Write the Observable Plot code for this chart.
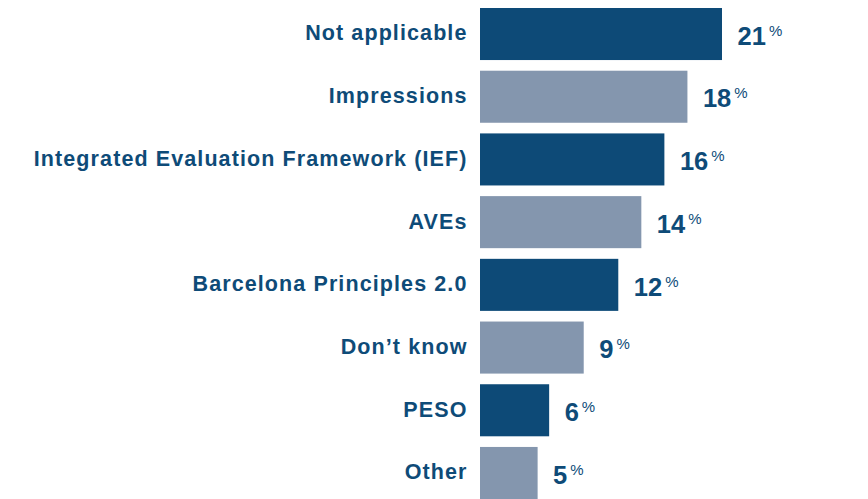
<!DOCTYPE html>
<html>
<head>
<meta charset="utf-8">
<script src="https://cdn.jsdelivr.net/npm/d3@7"></script>
<script src="https://cdn.jsdelivr.net/npm/@observablehq/plot@0.6"></script>
<style>
  html, body { margin: 0; padding: 0; background: #fff; }
  svg { display: block; }
</style>
</head>
<body>
<div id="chart"></div>
<script>
const categories = ["Not applicable", "Impressions", "Integrated Evaluation Framework (IEF)", "AVEs", "Barcelona Principles 2.0", "Don\u2019t know", "PESO", "Other"];
const values = [21, 18, 16, 14, 12, 9, 6, 5];
const shades = ["dark", "light", "dark", "light", "dark", "light", "dark", "light"];

const data = categories.map((c, i) => ({category: c, value: values[i], shade: shades[i]}));
const textColor = "#0e4b78";

const chart = Plot.plot({
  width: 868,
  height: 499,
  marginLeft: 480,
  marginRight: 146,
  marginTop: 8,
  marginBottom: 0,
  style: {fontFamily: "'Liberation Sans', Arial, sans-serif", background: "#fff"},
  x: {domain: [0, 21], axis: null},
  y: {domain: categories, axis: null, paddingInner: 0.17, paddingOuter: 0, round: false},
  color: {domain: ["dark", "light"], range: ["#0d4a77", "#8496ae"]},
  marks: [
    Plot.barX(data, {x: "value", y: "category", fill: "shade"}),
    Plot.text(data, {
      x: 0, y: "category", text: "category", textAnchor: "end", dx: -13, dy: -1,
      fontSize: 21.5, fontWeight: "bold", fill: textColor, className: "clabel"
    }),
    Plot.text(data, {
      x: "value", y: "category", text: d => String(d.value), textAnchor: "start", dx: 15, dy: 2,
      fontSize: 25.5, fontWeight: "bold", fill: textColor, className: "vlabel"
    })
  ]
});

d3.select(chart).selectAll("g.clabel text").attr("letter-spacing", "1.1px");

d3.select(chart).selectAll("g.vlabel text").each(function() {
  d3.select(this).append("tspan")
    .attr("font-size", 15)
    .attr("font-weight", "normal")
    .attr("dx", 3)
    .attr("dy", -9)
    .text("%");
});

document.getElementById("chart").appendChild(chart);
</script>
</body>
</html>
